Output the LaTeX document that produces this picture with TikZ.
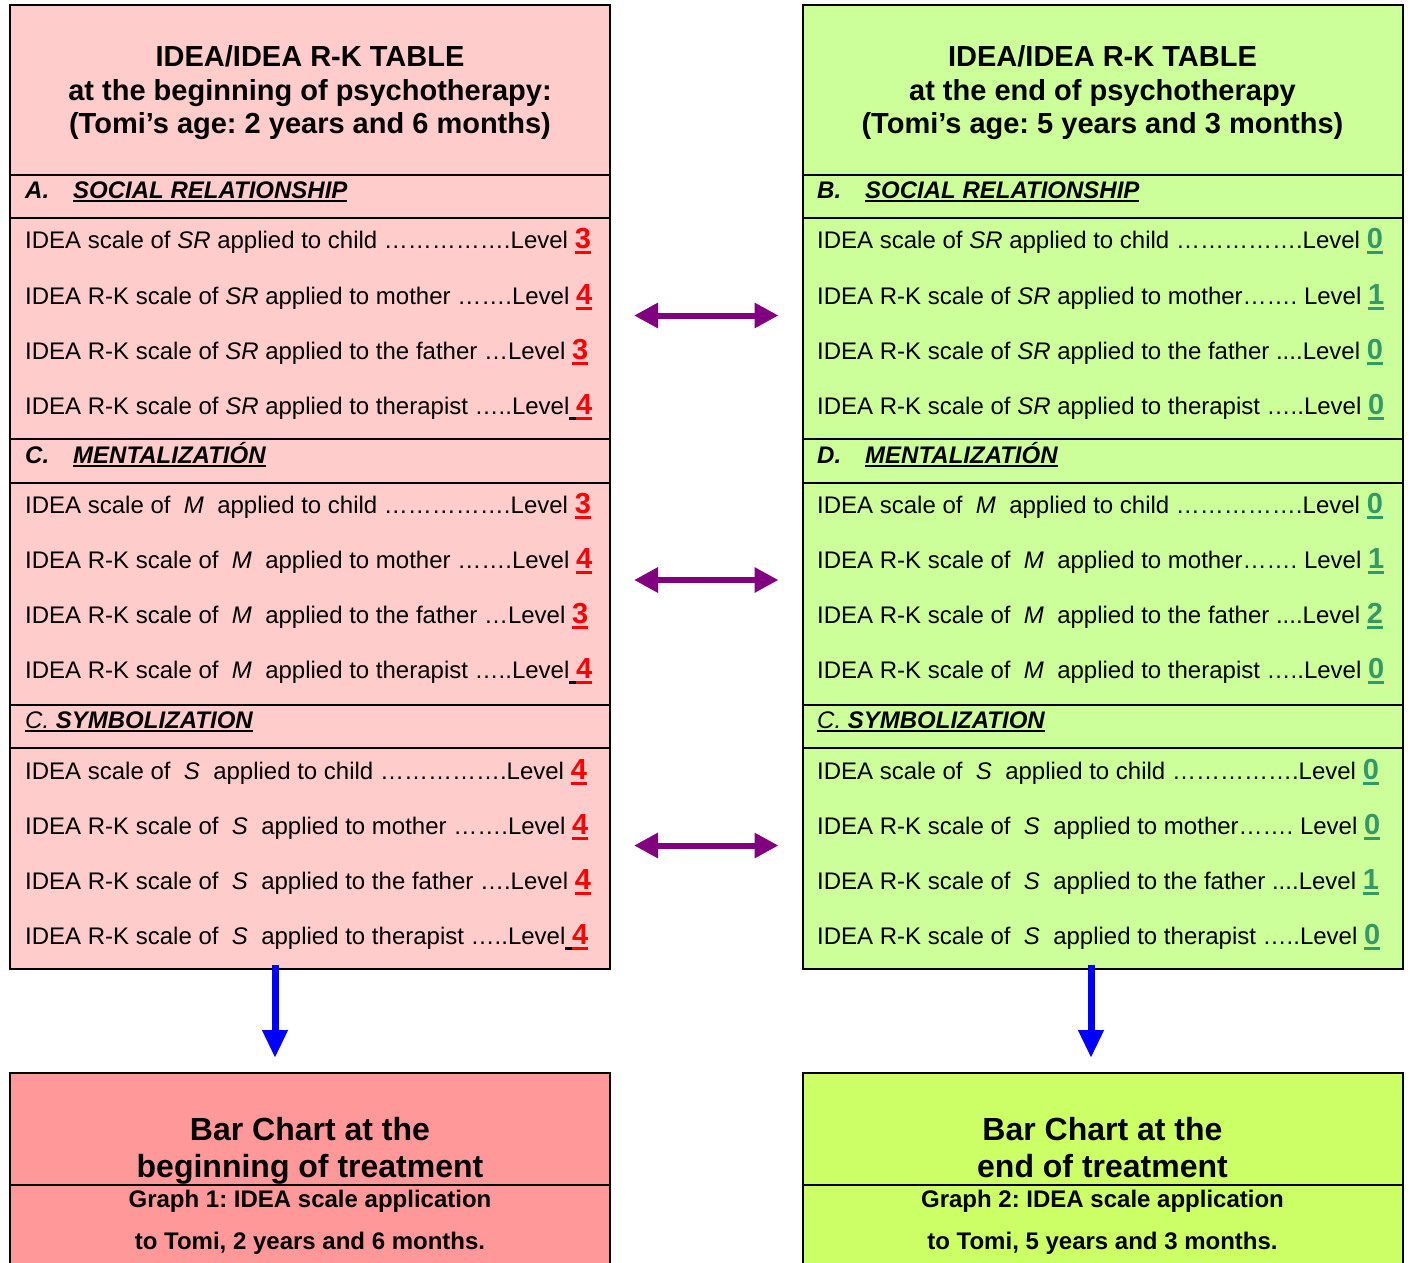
\documentclass[tikz,border=0pt]{standalone}
\usepackage{fontspec}
\setmainfont{Liberation Sans}
\usepackage{xcolor}
\usetikzlibrary{arrows.meta,positioning}
\definecolor{rosa}{HTML}{FFCCCC}
\definecolor{rosafuerte}{HTML}{FF9999}
\definecolor{verdeclaro}{HTML}{CCFF99}
\definecolor{lima}{HTML}{CCFF66}
\definecolor{rojo}{HTML}{FF0000}
\definecolor{verdenum}{HTML}{339966}
\definecolor{morado}{HTML}{800080}
\definecolor{azul}{HTML}{0000FF}
% nivel subrayado
\newcommand{\niv}[2]{\setbox0\hbox{\fontsize{29}{29}\selectfont\bfseries\color{#1}#2}\vtop{\copy0\nointerlineskip\kern2.5pt\hbox{\color{#1}\rule{\wd0}{3pt}}}}
\newcommand{\esp}{\vtop{\hbox{\ }\kern2.5pt\hrule height 3pt}}
\newcommand{\subr}[1]{\setbox0\hbox{#1}\vtop{\copy0\kern2pt\hrule height 2pt}}

\begin{document}
\frenchspacing
\begin{tikzpicture}[x=1pt,y=-1pt,
  banda/.style={draw=black,line width=2pt,minimum width=600pt,inner sep=0pt,outer sep=0pt},
  titulo/.style={align=center,inner sep=0pt,font=\fontsize{29}{33.5}\selectfont\bfseries},
  cabtexto/.style={anchor=base west,inner sep=0pt,font=\fontsize{24}{28}\selectfont\bfseries\itshape},
  fila/.style={anchor=base west,inner sep=0pt,font=\fontsize{24}{28}\selectfont},
  barra/.style={align=center,inner sep=0pt,font=\fontsize{32}{37}\selectfont\bfseries},
  grafico/.style={align=center,inner sep=0pt,font=\fontsize{24}{42}\selectfont\bfseries},
  doble/.style={draw=morado,line width=6pt,{Triangle[length=24pt,width=24pt]}-{Triangle[length=24pt,width=24pt]},shorten <=24pt,shorten >=24pt},
  bajada/.style={draw=azul,line width=7pt,-{Triangle[length=28pt,width=24pt]},shorten >=15pt,shorten <=-4pt}]
\useasboundingbox (0,0) rectangle (1410,1262);
% tabla del comienzo
\node[banda,fill=rosa,minimum height=170pt] (titL) at (310,90) {};
\node[banda,fill=rosa,minimum height=43pt,below=0pt of titL] (cabA) {};
\node[banda,fill=rosa,minimum height=221pt,below=0pt of cabA] (srL) {};
\node[banda,fill=rosa,minimum height=44pt,below=0pt of srL] (cabC) {};
\node[banda,fill=rosa,minimum height=222pt,below=0pt of cabC] (menL) {};
\node[banda,fill=rosa,minimum height=43pt,below=0pt of menL] (cabSL) {};
\node[banda,fill=rosa,minimum height=221pt,below=0pt of cabSL] (simL) {};
% tabla del final
\node[banda,fill=verdeclaro,minimum height=170pt] (titR) at (1102.5,90) {};
\node[banda,fill=verdeclaro,minimum height=43pt,below=0pt of titR] (cabB) {};
\node[banda,fill=verdeclaro,minimum height=221pt,below=0pt of cabB] (srR) {};
\node[banda,fill=verdeclaro,minimum height=44pt,below=0pt of srR] (cabD) {};
\node[banda,fill=verdeclaro,minimum height=222pt,below=0pt of cabD] (menR) {};
\node[banda,fill=verdeclaro,minimum height=43pt,below=0pt of menR] (cabSR) {};
\node[banda,fill=verdeclaro,minimum height=221pt,below=0pt of cabSR] (simR) {};
% graficos de barras
\node[banda,fill=rosafuerte,minimum height=112pt] (barL) at (310,1129) {};
\node[banda,fill=rosafuerte,minimum height=100pt,below=0pt of barL] (grafL) {};
\node[banda,fill=lima,minimum height=112pt] (barR) at (1102.5,1129) {};
\node[banda,fill=lima,minimum height=100pt,below=0pt of barR] (grafR) {};

\node[titulo] (tituloL) at (310,93) {IDEA/IDEA R-K TABLE\\at the beginning of psychotherapy:\\(Tomi’s age: 2 years and 6 months)};
\node[titulo] (tituloR) at (1102.5,93) {IDEA/IDEA R-K TABLE\\at the end of psychotherapy\\(Tomi’s age: 5 years and 3 months)};

\node[cabtexto] (hA) at (25,198) {A.\hspace{24pt}\subr{SOCIAL RELATIONSHIP}};
\node[cabtexto] (hB) at (817,198) {B.\hspace{24pt}\subr{SOCIAL RELATIONSHIP}};
\node[cabtexto] (hC) at (25,463) {C.\hspace{24pt}\subr{MENTALIZATIÓN}};
\node[cabtexto] (hD) at (817,463) {D.\hspace{24pt}\subr{MENTALIZATIÓN}};
\node[cabtexto] (hSL) at (25,728) {\subr{\textmd{C.} SYMBOLIZATION}};
\node[cabtexto] (hSR) at (817,728) {\subr{\textmd{C.} SYMBOLIZATION}};

\foreach \y/\t [count=\i] in {
  248/{IDEA scale of \textit{SR} applied to child …………….Level \niv{rojo}{3}},
  304/{IDEA R-K scale of \textit{SR} applied to mother …….Level \niv{rojo}{4}},
  359/{IDEA R-K scale of \textit{SR} applied to the father …Level \niv{rojo}{3}},
  414/{IDEA R-K scale of \textit{SR} applied to therapist …..Level\esp\niv{rojo}{4}},
  513/{IDEA scale of~ \textit{M}~ applied to child …………….Level \niv{rojo}{3}},
  568/{IDEA R-K scale of~ \textit{M}~ applied to mother …….Level \niv{rojo}{4}},
  623/{IDEA R-K scale of~ \textit{M}~ applied to the father …Level \niv{rojo}{3}},
  678/{IDEA R-K scale of~ \textit{M}~ applied to therapist …..Level\esp\niv{rojo}{4}},
  779/{IDEA scale of~ \textit{S}~ applied to child …………….Level \niv{rojo}{4}},
  834/{IDEA R-K scale of~ \textit{S}~ applied to mother …….Level \niv{rojo}{4}},
  889/{IDEA R-K scale of~ \textit{S}~ applied to the father ….Level \niv{rojo}{4}},
  944/{IDEA R-K scale of~ \textit{S}~ applied to therapist …..Level\esp\niv{rojo}{4}}}
  \node[fila] (filaL-\i) at (25,\y) {\t};

\foreach \y/\t [count=\i] in {
  248/{IDEA scale of \textit{SR} applied to child …………….Level \niv{verdenum}{0}},
  304/{IDEA R-K scale of \textit{SR} applied to mother……. Level \niv{verdenum}{1}},
  359/{IDEA R-K scale of \textit{SR} applied to the father ....Level \niv{verdenum}{0}},
  414/{IDEA R-K scale of \textit{SR} applied to therapist …..Level \niv{verdenum}{0}},
  513/{IDEA scale of~ \textit{M}~ applied to child …………….Level \niv{verdenum}{0}},
  568/{IDEA R-K scale of~ \textit{M}~ applied to mother……. Level \niv{verdenum}{1}},
  623/{IDEA R-K scale of~ \textit{M}~ applied to the father ....Level \niv{verdenum}{2}},
  678/{IDEA R-K scale of~ \textit{M}~ applied to therapist …..Level \niv{verdenum}{0}},
  779/{IDEA scale of~ \textit{S}~ applied to child …………….Level \niv{verdenum}{0}},
  834/{IDEA R-K scale of~ \textit{S}~ applied to mother……. Level \niv{verdenum}{0}},
  889/{IDEA R-K scale of~ \textit{S}~ applied to the father ....Level \niv{verdenum}{1}},
  944/{IDEA R-K scale of~ \textit{S}~ applied to therapist …..Level \niv{verdenum}{0}}}
  \node[fila] (filaR-\i) at (817,\y) {\t};

\node[barra] (barraL) at (310,1151) {Bar Chart at the\\beginning of treatment};
\node[barra] (barraR) at (1102.5,1148) {Bar Chart at the\\end of treatment};
\node[grafico] (graficoL) at (310,1222) {Graph 1: IDEA scale application\\to Tomi, 2 years and 6 months.};
\node[grafico] (graficoR) at (1102.5,1222) {Graph 2: IDEA scale application\\to Tomi, 5 years and 3 months.};

% flechas
\draw[doble] ([yshift=13pt]srL.east) -- ([yshift=13pt]srR.west);
\draw[doble] ([yshift=14pt]menL.east) -- ([yshift=14pt]menR.west);
\draw[doble] ([yshift=13pt]simL.east) -- ([yshift=13pt]simR.west);
\draw[bajada] ([xshift=-35pt]simL.south) -- ([xshift=-35pt]barL.north);
\draw[bajada] ([xshift=-11.5pt]simR.south) -- ([xshift=-11.5pt]barR.north);
\end{tikzpicture}
\end{document}
